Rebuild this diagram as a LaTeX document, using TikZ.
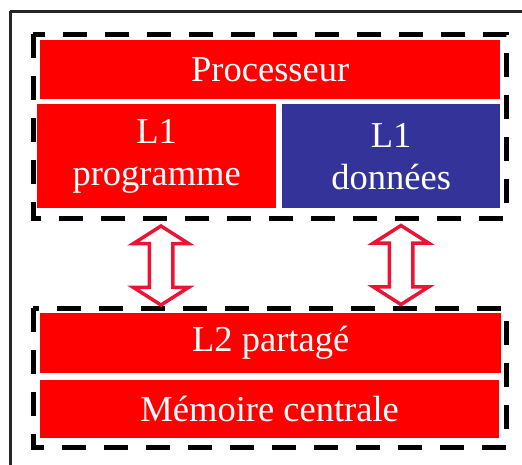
\documentclass[tikz,border=0pt]{standalone}
\usepackage{fontspec}
\setmainfont{Liberation Serif}
\usetikzlibrary{shapes.arrows}
\definecolor{boxred}{RGB}{255,0,0}
\definecolor{boxblue}{RGB}{51,51,153}
\definecolor{arrowred}{RGB}{236,20,52}
\tikzset{
    cachebox/.style={rectangle, anchor=north west, inner sep=0pt, text=white, align=center,
        font=\fontsize{36.5}{42}\selectfont},
    groupbox/.style={line width=5pt, dash pattern=on 24pt off 18pt},
    biarrow/.style={double arrow, draw=arrowred, fill=white, line width=3.5pt, rotate=90,
        inner xsep=0pt, inner ysep=10pt, minimum height=79pt,
        double arrow head extend=16pt, double arrow tip angle=115}
}
\begin{document}
\begin{tikzpicture}[x=1pt, y=-1pt]
        \useasboundingbox (0, 0) rectangle (522, 464);
        \draw[line width=3pt, black!85] (10, 11) -- (540, 11);
        \draw[line width=3pt, black!85] (10, 11) -- (10, 480);

        \draw[groupbox] (33, 34) rectangle (506, 218);
        \draw[groupbox] (33, 308) rectangle (506, 447);

        \node[cachebox, fill=boxred, minimum width=460pt, minimum height=59pt] (proc) at (40, 40) {Processeur};
        \node[cachebox, fill=boxred, minimum width=239pt, minimum height=104pt] (prog) at (37, 104) {L1\\programme};
        \node[cachebox, fill=boxblue, minimum width=218pt, minimum height=104pt] (don) at (282, 104) {L1\\données};
        \node[cachebox, fill=boxred, minimum width=461pt, minimum height=60pt] (l2) at (40, 313) {L2 partagé};
        \node[cachebox, fill=boxred, minimum width=459pt, minimum height=58pt] (mem) at (40, 380) {Mémoire centrale};

        \node[biarrow] (progl2) at (161, 265.5) {};
        \node[biarrow] (donl2) at (401, 265) {};
    \end{tikzpicture}
\end{document}
